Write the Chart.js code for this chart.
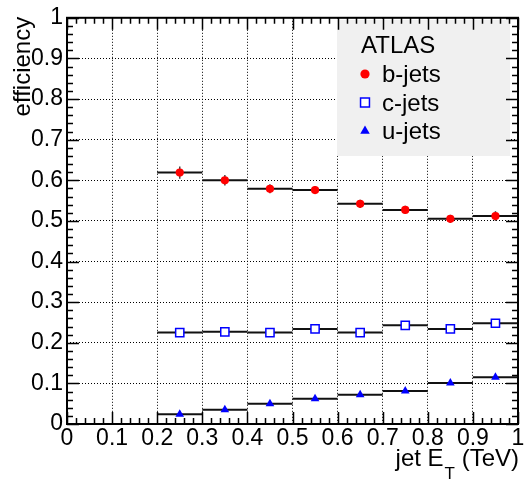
<!DOCTYPE html>
<html>
<head>
<meta charset="utf-8">
<script src="https://cdn.jsdelivr.net/npm/chart.js@4.4.0/dist/chart.umd.min.js"></script>
<style>
  body { margin: 0; background: #fff; }
  canvas { display: block; }
</style>
</head>
<body>
<canvas id="myChart" width="527" height="482"></canvas>
<script>
// bins in jet E_T (TeV)
const binEdges = [0.2, 0.3, 0.4, 0.5, 0.6, 0.7, 0.8, 0.9, 1.0]
const binCenters = [0.25, 0.35, 0.45, 0.55, 0.65, 0.75, 0.85, 0.95]

// tagging efficiency per bin
const bJets = [0.619, 0.600, 0.579, 0.576, 0.542, 0.527, 0.505, 0.512]
const bErr = [0.015, 0.013, 0.011, 0.010, 0.010, 0.010, 0.010, 0.012]
const cJets = [0.225, 0.227, 0.225, 0.234, 0.225, 0.243, 0.234, 0.248]
const cErr = [0.011, 0.009, 0.008, 0.008, 0.008, 0.008, 0.008, 0.009]
const uJets = [0.024, 0.035, 0.050, 0.062, 0.072, 0.081, 0.101, 0.115]
const uErr = [0.003, 0.003, 0.003, 0.003, 0.003, 0.003, 0.004, 0.004]

const xTicks = [0, 0.1, 0.2, 0.3, 0.4, 0.5, 0.6, 0.7, 0.8, 0.9, 1]
const yTicks = [0, 0.1, 0.2, 0.3, 0.4, 0.5, 0.6, 0.7, 0.8, 0.9, 1]

const legendTitle = 'ATLAS'
const legendLabels = ['b-jets', 'c-jets', 'u-jets']

const FONT = '"Liberation Sans", Arial, Helvetica, sans-serif'

const points = values => binCenters.map((x, i) => ({ x: x, y: values[i] }))
const tickLabel = v => String(Math.round(v * 10) / 10)

// horizontal bin lines + vertical error bars, under the markers
const binLines = {
  id: 'binLines',
  beforeDatasetsDraw(chart) {
    const ctx = chart.ctx
    const xs = chart.scales.x
    const ys = chart.scales.y
    ctx.save()
    chart.data.datasets.forEach(ds => {
      ds.data.forEach((p, i) => {
        const y = ys.getPixelForValue(p.y)
        ctx.strokeStyle = '#444'
        ctx.lineWidth = 1.5
        ctx.beginPath()
        const xc = xs.getPixelForValue(p.x)
        ctx.moveTo(xc, ys.getPixelForValue(p.y - ds.errors[i]))
        ctx.lineTo(xc, ys.getPixelForValue(p.y + ds.errors[i]))
        ctx.stroke()
        ctx.strokeStyle = '#111'
        ctx.lineWidth = 2
        ctx.beginPath()
        ctx.moveTo(xs.getPixelForValue(binEdges[i]), y)
        ctx.lineTo(xs.getPixelForValue(binEdges[i + 1]), y)
        ctx.stroke()
      })
    })
    ctx.restore()
  }
}

// ROOT style frame: legend box, axis titles, ticks on all four sides
const frame = {
  id: 'frame',
  afterDatasetsDraw(chart) {
    const ctx = chart.ctx
    const a = chart.chartArea
    const xs = chart.scales.x
    const ys = chart.scales.y
    ctx.save()

    // legend
    ctx.fillStyle = '#f0f0f0'
    ctx.fillRect(337, 20, 173, 136)
    ctx.fillStyle = '#000'
    ctx.font = '24px ' + FONT
    ctx.textAlign = 'left'
    ctx.textBaseline = 'alphabetic'
    ctx.fillText(legendTitle, 361, 53)
    legendLabels.forEach((label, i) => {
      const ds = chart.data.datasets[i]
      const ly = 82 + i * 28.5
      ctx.fillStyle = ds.backgroundColor
      ctx.strokeStyle = ds.borderColor
      ctx.lineWidth = ds.borderWidth
      Chart.helpers.drawPoint(ctx, {
        pointStyle: ds.pointStyle, radius: ds.pointRadius + 0.5, rotation: 0,
        borderWidth: ds.borderWidth
      }, 365, ly - 8)
      ctx.fillStyle = '#000'
      ctx.fillText(label, 382, ly)
    })

    // frame
    ctx.strokeStyle = '#000'
    ctx.lineWidth = 2
    ctx.strokeRect(a.left, a.top, a.right - a.left, a.bottom - a.top)

    // ticks
    ctx.lineWidth = 1.5
    ctx.beginPath()
    for (let k = 0; k <= 50; k++) {
      const len = k % 5 === 0 ? 12 : 6
      const px = Math.round(xs.getPixelForValue(k * 0.02)) + 0.5
      ctx.moveTo(px, a.bottom); ctx.lineTo(px, a.bottom - len)
      ctx.moveTo(px, a.top); ctx.lineTo(px, a.top + len)
      const py = Math.round(ys.getPixelForValue(k * 0.02)) + 0.5
      ctx.moveTo(a.left, py); ctx.lineTo(a.left + len, py)
      ctx.moveTo(a.right, py); ctx.lineTo(a.right - len, py)
    }
    ctx.stroke()

    // y title
    ctx.fillStyle = '#000'
    ctx.font = '24px ' + FONT
    ctx.save()
    ctx.translate(30, a.top - 1)
    ctx.rotate(-Math.PI / 2)
    ctx.textAlign = 'right'
    ctx.fillText('efficiency', 0, 0)
    ctx.restore()

    // x title with subscript T
    ctx.textAlign = 'left'
    const big = '24px ' + FONT
    const small = '17px ' + FONT
    ctx.font = big
    const w1 = ctx.measureText('jet E').width
    const w3 = ctx.measureText(' (TeV)').width
    ctx.font = small
    const w2 = ctx.measureText('T').width
    let x0 = a.right + 1 - (w1 + w2 + w3 + 1)
    ctx.font = big
    ctx.fillText('jet E', x0, 466)
    ctx.font = small
    ctx.fillText('T', x0 + w1 + 1, 479)
    ctx.font = big
    ctx.fillText(' (TeV)', x0 + w1 + w2 + 1, 466)

    ctx.restore()
  }
}

const axisBase = {
  type: 'linear', min: 0, max: 1,
  grid: { color: '#000', lineWidth: 1, drawTicks: false },
  border: { display: false, dash: [1, 2] }
}

new Chart(document.getElementById('myChart'), {
  type: 'scatter',
  data: {
    datasets: [
      {
        label: legendLabels[0], data: points(bJets), errors: bErr,
        pointStyle: 'circle', pointRadius: 4.1, borderWidth: 0,
        backgroundColor: '#ff0000', borderColor: '#ff0000'
      },
      {
        label: legendLabels[1], data: points(cJets), errors: cErr,
        pointStyle: 'rect', pointRadius: 5.8, borderWidth: 1.5,
        backgroundColor: '#ffffff', borderColor: '#0000ff'
      },
      {
        label: legendLabels[2], data: points(uJets), errors: uErr,
        pointStyle: 'triangle', pointRadius: 5, borderWidth: 0,
        backgroundColor: '#0000ff', borderColor: '#0000ff'
      }
    ]
  },
  options: {
    responsive: false,
    animation: false,
    devicePixelRatio: 1,
    layout: { padding: { top: 13, right: 9, left: 0, bottom: 0 } },
    plugins: { legend: { display: false }, tooltip: { enabled: false } },
    scales: {
      x: {
        ...axisBase,
        afterBuildTicks: s => { s.ticks = xTicks.map(v => ({ value: v })) },
        afterFit: s => { s.height = 58 },
        ticks: {
          color: '#000', font: { family: FONT, size: 23 }, padding: 1,
          autoSkip: false, maxRotation: 0, callback: tickLabel
        }
      },
      y: {
        ...axisBase,
        afterBuildTicks: s => { s.ticks = yTicks.map(v => ({ value: v })) },
        afterFit: s => { s.width = 67 },
        ticks: {
          color: '#000', font: { family: FONT, size: 23 }, padding: 4,
          autoSkip: false, callback: tickLabel
        }
      }
    }
  },
  plugins: [binLines, frame]
})
</script>
</body>
</html>
